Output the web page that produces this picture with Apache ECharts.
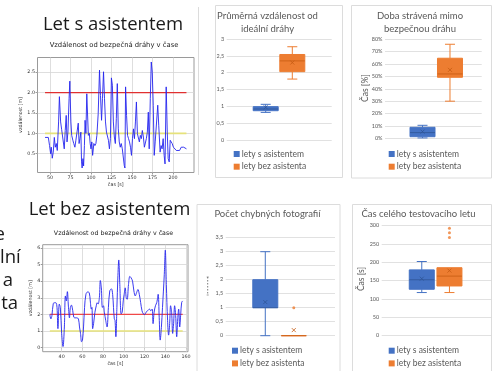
<!DOCTYPE html>
<html><head><meta charset="utf-8">
<script src="https://cdn.jsdelivr.net/npm/echarts@6/dist/echarts.min.js"></script>
<style>html,body{margin:0;padding:0;background:#fff}#c{width:494px;height:371px}</style>
</head><body><div id="c"></div><script>
// ---------- data ----------
const timeWith = [44,46,48,49.5,50.8,51.6,52.8,54,55.3,56.5,57.7,58.9,60.5,61.5,63,64.2,65.4,66.6,67.4,68.6,69.8,70.8,71.9,73.3,74.2,75.5,76.5,77.9,79,80.4,81.6,82.8,83.6,84.5,85.5,86.5,87.7,88.5,89.2,90.2,91,92,92.8,93.8,94.9,96.8,98,99,100,101,102,103.5,104.8,106,107.2,108.8,110.4,111.6,112.9,114,115.3,116.5,117.7,118.9,120,121.3,122.5,123.7,124.9,126.1,127.3,128.5,129.7,130.9,132.1,133.3,134.5,135.7,136.9,138.2,139.4,140.6,141.4,142.2,143.4,144.6,145.8,147,148.2,149.4,150.6,151.8,153,154.2,155.4,156.6,157.8,159,160.2,161.4,162.6,163.9,165.1,166.3,167.5,168.7,169.9,171,172.3,173.5,174.7,175.9,177.1,178.3,179.5,181.4,182.6,184.3,185.5,186.7,188,189.2,190.3,191.7,193,194.1,195.4,196.6,197.8,199,200.5,202,204,206,208,210,211.4,213,214.3,216.4];
const distWith = [0.9,0.9,0.9,0.7,0.5,0.66,0.39,0.54,0.9,0.66,0.75,0.58,1.28,1.9,1.28,1.1,1.07,1.1,0.62,1.07,1.44,0.79,1.03,1.85,2.28,1.28,0.95,0.83,0.75,0.66,0.83,0.79,0.87,1.25,0.75,0.87,1.03,0.3,0.15,0.38,0.2,0.7,1.32,1.0,1.97,0.95,1.0,0.75,0.62,0.79,0.46,0.75,0.7,0.75,0.95,1.48,2.55,1.93,1.32,1.85,2.51,1.85,1.28,1.03,0.99,0.83,0.62,0.87,2.36,2.18,1.28,0.91,0.75,1.36,2.22,1.11,0.79,0.66,0.75,0.62,0.66,0.21,0.15,2.14,1.44,0.95,0.87,0.79,0.66,0.46,0.87,1.11,0.87,1.28,1.77,0.99,1.03,0.79,0.95,0.87,1.07,0.91,0.66,0.62,0.87,1.03,1.52,0.62,1.85,2.75,2.5,1.69,0.46,0.79,0.75,1.69,1.2,0.54,0.7,0.62,0.87,0.46,0.25,2.14,1.03,0.38,0.3,0.83,0.79,0.75,0.66,0.7,0.58,0.54,0.58,0.66,0.7,0.66,0.7,0.62];

const timeWithout = [28.6,29.6,30.6,31.9,33.2,34.5,35.5,36.4,37.7,38.7,40,41.3,42.6,43.6,44.5,45.5,46.5,47.5,48.4,49.4,50.7,51.7,53,54.6,56.2,57.2,58.2,59.2,60.1,61.1,62.1,63.4,65,66.6,67.6,68.6,69.2,69.9,70.8,72.1,73.4,74.2,75.1,76.4,77.3,78.3,79.3,80.3,81.2,82.5,83.8,85.1,86.4,88,89.2,90,90.8,91.5,92.3,93.3,94.2,95.1,96.1,97.4,98.4,99.4,100.3,101.3,102.3,103.2,104.5,105.8,107.1,108.4,109.7,111,112.3,113.6,114.9,116.2,117.5,118.8,120.1,121.4,123,124.7,126,127.3,128.2,129.2,130.5,131.8,133.1,134.1,135.1,136.2,137.3,139,140,141,142.2,143.2,144.2,145.1,146.1,147.1,148,149,150,151,152,152.9,153.9,154.9,155.8,156.8];
const distWithout = [1.99,1.73,1.93,2.66,2.7,2.7,2.42,1.14,2.62,2.42,0.85,0.06,1.24,3.11,2.81,3.37,2.5,1.79,2.42,2.56,2.22,1.83,1.79,1.79,1.73,1.24,0.85,0.35,0.45,1.24,2.42,3.21,3.35,3.31,2.81,2.32,2.42,1.14,1.44,2.13,2.52,2.7,2.62,3.01,4.04,3.6,2.42,2.52,2.13,1.63,1.24,2.42,3.41,3.54,3.2,2.42,1.73,1.63,0.65,2.42,4.19,5.28,3.8,2.03,2.13,2.81,3.21,3.6,3.0,2.91,3.8,4.29,4.19,4.0,3.41,3.11,3.31,3.5,3.21,2.72,2.22,2.03,1.99,2.13,2.22,2.32,2.22,2.32,1.44,2.13,2.52,2.72,3.21,1.83,0.45,1.2,2.42,4.39,5.87,3.8,1.63,0.75,1.44,2.52,2.13,0.85,1.44,2.52,1.93,0.65,1.73,2.32,1.24,2.03,2.72,2.81];

const safeLimit = 2;      // red line
const idealLimit = 1;     // yellow line
const xTicksWith = [50,75,100,125,150,175,200];
const yTicksWith = [0.5,1,1.5,2,2.5];
const xTicksWithout = [40,60,80,100,120,140,160];
const yTicksWithout = [0,1,2,3,4,5,6];

const boxNames = ['lety s asistentem','lety bez asistenta'];
// [min, q1, median, q3, max]
const avgDistBox = [[0.82,0.87,0.92,0.99,1.06],[1.81,2.03,2.35,2.54,2.77]];
const avgDistMean = [0.97,2.30];
const offTimeBox = [[0.003,0.013,0.046,0.089,0.105],[0.30,0.493,0.52,0.647,0.76]];
const offTimeMean = [0.054,0.553];
const photoBox = [[0,1,1,2,3],[0,0,0,0,0]];
const photoMean = [1.2,0.2];
const photoOutliers = [[],[1]];
const flightBox = [[117,126,152,179,202],[117,135,162,185,185]];
const flightMean = [155,177];
const flightOutliers = [[],[268,281,293]];

// ---------- styling ----------
const BLUE = '#4472C4', ORANGE = '#ED7D31';
const DARK = ['#2f5597', '#c55a11'];
const COLORS = [BLUE, ORANGE];
const LINEFONT = 'DejaVu Sans';
const XLFONT = 'Lato';

const chart = echarts.init(document.getElementById('c'), null, {renderer: 'canvas'});

const grids = [
  {left: 37.5, top: 57.5, width: 156.5, height: 115},
  {left: 42.7, top: 244.7, width: 145.3, height: 107},
  {left: 226.7, top: 39, width: 105, height: 101},
  {left: 385, top: 39.3, width: 96.7, height: 99},
  {left: 225.7, top: 237.7, width: 109.3, height: 98},
  {left: 381.7, top: 225.7, width: 110, height: 109.6}
].map(g => Object.assign({show: false, containLabel: false}, g));
grids[0].show = true; grids[1].show = true;
grids[0].borderColor = '#9a9a9a'; grids[1].borderColor = '#9a9a9a';
grids[0].borderWidth = 1; grids[1].borderWidth = 1;
grids[0].backgroundColor = 'transparent'; grids[1].backgroundColor = 'transparent';

function lineX(idx, min, max, ticks, name, gap) {
  return {type: 'value', gridIndex: idx, min, max,
    axisLine: {show: false}, splitLine: {show: false},
    axisTick: {show: true, length: 2, customValues: ticks, lineStyle: {color: '#555', width: 0.6}},
    axisLabel: {show: true, customValues: ticks, fontSize: 4.8, color: '#333', margin: 2.5, fontFamily: LINEFONT},
    name, nameLocation: 'middle', nameGap: gap, nameTextStyle: {fontSize: 4.8, color: '#333', fontFamily: LINEFONT}};
}
function lineY(idx, min, max, ticks, name, gap) {
  return {type: 'value', gridIndex: idx, min, max,
    axisLine: {show: false}, splitLine: {show: false},
    axisTick: {show: true, length: 2, customValues: ticks, lineStyle: {color: '#555', width: 0.6}},
    axisLabel: {show: true, customValues: ticks, fontSize: 4.8, color: '#333', margin: 2.5, fontFamily: LINEFONT,
      formatter: v => (Number.isInteger(v) && idx === 0) ? v.toFixed(1) : String(v)},
    name, nameLocation: 'middle', nameGap: gap, nameRotate: 90, nameTextStyle: {fontSize: 4.8, color: '#333', fontFamily: LINEFONT}};
}
function boxX(idx, min, max) {
  return {type: 'value', gridIndex: idx, min, max, axisLine: {show: false}, axisTick: {show: false},
    axisLabel: {show: false}, splitLine: {show: false}};
}
function boxY(idx, max, interval, fmt) {
  return {type: 'value', gridIndex: idx, min: 0, max, interval,
    axisLine: {show: false}, axisTick: {show: false},
    splitLine: {show: true, lineStyle: {color: '#d9d9d9', width: 0.8}},
    axisLabel: {fontSize: 5.5, color: '#595959', margin: 2.5, fontFamily: XLFONT, formatter: fmt}};
}
const commaFmt = v => String(Math.round(v * 10) / 10).replace('.', ',');

const xAxis = [
  lineX(0, 34.8, 225.6, xTicksWith, 'čas [s]', 10),
  lineX(1, 21.7, 161.9, xTicksWithout, 'čas [s]', 9.5),
  boxX(2, -1.466, 2.481), boxX(3, -1.364, 2.153), boxX(4, -1.389, 2.446), boxX(5, -1.448, 2.527)
];
const yAxis = [
  lineY(0, 0.04, 2.86, yTicksWith, 'vzdálenost [m]', 12),
  lineY(1, -0.25, 6.2, yTicksWithout, 'vzdálenost [m]', 8.5),
  boxY(2, 3, 0.5, commaFmt),
  boxY(3, 0.8, 0.1, v => Math.round(v * 100) + '%'),
  boxY(4, 3.5, 0.5, commaFmt),
  boxY(5, 300, 50, v => String(Math.round(v)))
];

const series = [];
// grid lines for line charts (kept beneath the data lines)
function gridLines(idx, xt, yt) {
  series.push({type: 'line', xAxisIndex: idx, yAxisIndex: idx, data: [], silent: true, z: 1,
    markLine: {z: 1, symbol: 'none', silent: true, animation: false, label: {show: false},
      lineStyle: {color: '#d6d6d6', type: 'solid', width: 0.8},
      emphasis: {disabled: true},
      data: xt.map(v => ({xAxis: v})).concat(yt.map(v => ({yAxis: v})))}});
}
gridLines(0, xTicksWith, yTicksWith);
gridLines(1, xTicksWithout, yTicksWithout);

function limitLine(idx, times, val, color, width, opacity) {
  series.push({type: 'line', xAxisIndex: idx, yAxisIndex: idx, symbol: 'none', silent: true, z: 6,
    data: [[times[0], val], [times[times.length - 1], val]],
    lineStyle: {color, width, opacity}});
}
function mainLine(idx, times, vals, smooth) {
  series.push({type: 'line', xAxisIndex: idx, yAxisIndex: idx, symbol: 'none', silent: true, z: 7,
    smooth, data: times.map((t, i) => [t, vals[i]]),
    lineStyle: {color: '#2626ee', width: 1, opacity: 0.9}});
}
limitLine(0, timeWith, idealLimit, '#e6e27a', 1.6, 1);
limitLine(0, timeWith, safeLimit, '#e03030', 1.2, 1);
mainLine(0, timeWith, distWith, false);
limitLine(1, timeWithout, idealLimit, '#e6e27a', 1.6, 1);
limitLine(1, timeWithout, safeLimit, '#f04848', 1.3, 1);
mainLine(1, timeWithout, distWithout, 0.35);

// box plots via custom series
function boxSeries(idx, boxes, means, outliers) {
  boxes.forEach((b, s) => {
    const color = COLORS[s], dark = DARK[s];
    series.push({type: 'custom', name: boxNames[s], xAxisIndex: idx, yAxisIndex: idx, silent: true, z: 5,
      data: [[s].concat(b).concat([means[s]])],
      renderItem: (params, api) => {
        const slot = api.value(0);
        const pt = v => api.coord([slot, v]);
        const cx = pt(api.value(3))[0];
        const yMin = pt(api.value(1))[1], yQ1 = pt(api.value(2))[1], yMed = pt(api.value(3))[1];
        const yQ3 = pt(api.value(4))[1], yMax = pt(api.value(5))[1], yMean = pt(api.value(6))[1];
        const hw = 12.5, cap = 5, m = 2;
        const ln = (x1, y1, x2, y2, c, w) => ({type: 'line', shape: {x1, y1, x2, y2}, style: {stroke: c, lineWidth: w}});
        const ch = [];
        if (yMin - yQ1 > 0.5) { ch.push(ln(cx, yQ1, cx, yMin, color, 1)); ch.push(ln(cx - cap, yMin, cx + cap, yMin, color, 1)); }
        if (yQ3 - yMax > 0.5) { ch.push(ln(cx, yQ3, cx, yMax, color, 1)); ch.push(ln(cx - cap, yMax, cx + cap, yMax, color, 1)); }
        ch.push({type: 'rect', shape: {x: cx - hw, y: yQ3, width: 2 * hw, height: Math.max(yQ1 - yQ3, 0)},
          style: {fill: color, stroke: color, lineWidth: 1}});
        ch.push(ln(cx - hw, yMed, cx + hw, yMed, dark, 0.8));
        ch.push(ln(cx - m, yMean - m, cx + m, yMean + m, dark, 0.8));
        ch.push(ln(cx - m, yMean + m, cx + m, yMean - m, dark, 0.8));
        return {type: 'group', children: ch};
      }});
    if (outliers && outliers[s].length) {
      series.push({type: 'scatter', xAxisIndex: idx, yAxisIndex: idx, silent: true, z: 6,
        symbol: 'circle', symbolSize: 3,
        data: outliers[s].map(v => [s, v]), itemStyle: {color: color}});
    }
  });
}
boxSeries(2, avgDistBox, avgDistMean, null);
boxSeries(3, offTimeBox, offTimeMean, null);
boxSeries(4, photoBox, photoMean, photoOutliers);
boxSeries(5, flightBox, flightMean, flightOutliers);

// ---------- texts & decorations ----------
function txt(text, x, y, size, o) {
  o = o || {};
  return {type: 'text', x, y, rotation: o.rot || 0, silent: true, z: 10,
    style: {text, fontSize: size, fontFamily: o.font || XLFONT, fill: o.color || '#595959',
      align: o.align || 'center', textAlign: o.align || 'center',
      verticalAlign: 'middle', textVerticalAlign: 'middle', fontWeight: o.weight || 'normal'}};
}
function rect(x, y, w, h) {
  return {type: 'rect', silent: true, z: 0, shape: {x, y, width: w, height: h},
    style: {fill: 'none', stroke: '#dcdcdc', lineWidth: 1}};
}
function legend(x, y) {
  const out = [];
  boxNames.forEach((n, i) => {
    const cy = y + i * 12.7;
    out.push({type: 'rect', silent: true, z: 10, shape: {x: x - 3, y: cy - 3, width: 6, height: 6}, style: {fill: COLORS[i]}});
    out.push(txt(n, x + 5, cy, 8.5, {align: 'left'}));
  });
  return out;
}
const MAIN = 'Open Sans';
const graphic = [
  rect(215.5, 5.5, 127, 172), rect(351.5, 5.5, 140, 172.5), rect(197, 204.5, 143, 180), rect(352.5, 204.5, 139, 180),
  {type: 'line', silent: true, z: 0, shape: {x1: 198.5, y1: 7, x2: 198.5, y2: 175}, style: {stroke: '#dcdcdc', lineWidth: 1}},
  txt('Let s asistentem', 113, 24.8, 18.5, {font: MAIN, color: '#1a1a1a'}),
  txt('Let bez asistentem', 109.5, 209.8, 18.5, {font: MAIN, color: '#1a1a1a'}),
  txt('e', 5, 234.5, 18.5, {font: MAIN, color: '#1a1a1a', align: 'right'}),
  txt('lní', 20.7, 257.5, 18.5, {font: MAIN, color: '#1a1a1a', align: 'right'}),
  txt('a', 13, 280.5, 18.5, {font: MAIN, color: '#1a1a1a', align: 'right'}),
  txt('ta', 18, 303.5, 18.5, {font: MAIN, color: '#1a1a1a', align: 'right'}),
  txt('Vzdálenost od bezpečná dráhy v čase', 114, 45, 6.8, {font: LINEFONT, color: '#222'}),
  txt('Vzdálenost od bezpečná dráhy v čase', 113.5, 233, 6.3, {font: LINEFONT, color: '#222'}),
  txt('Průměrná vzdálenost od', 267.5, 16, 9.5),
  txt('ideální dráhy', 267.5, 28.5, 9.5),
  txt('Doba strávená mimo', 420, 16, 9.5),
  txt('bezpečnou dráhu', 420, 28.5, 9.5),
  txt('Počet chybných fotografií', 267.5, 214, 9.5),
  txt('Čas celého testovacího letu', 418.5, 214, 9.5),
  txt('Čas [%]', 365, 88, 8.5, {rot: Math.PI / 2}),
  txt('Čas [s]', 361.7, 279, 8.5, {rot: Math.PI / 2}),
  {type: 'line', silent: true, z: 10, shape: {x1: 207.7, y1: 277, x2: 207.7, y2: 295},
    style: {stroke: '#595959', lineWidth: 0.8, lineDash: [1.5, 1.5]}},
  {type: 'line', silent: true, z: 10, shape: {x1: 206.7, y1: 277, x2: 208.7, y2: 277}, style: {stroke: '#595959', lineWidth: 0.6}},
  {type: 'line', silent: true, z: 10, shape: {x1: 206.7, y1: 295, x2: 208.7, y2: 295}, style: {stroke: '#595959', lineWidth: 0.6}}
].concat(legend(236.7, 154), legend(391.7, 154), legend(235, 350.7), legend(391.7, 350.7));

chart.setOption({animation: false, backgroundColor: '#fff', grid: grids, xAxis, yAxis, series, graphic});
</script></body></html>
